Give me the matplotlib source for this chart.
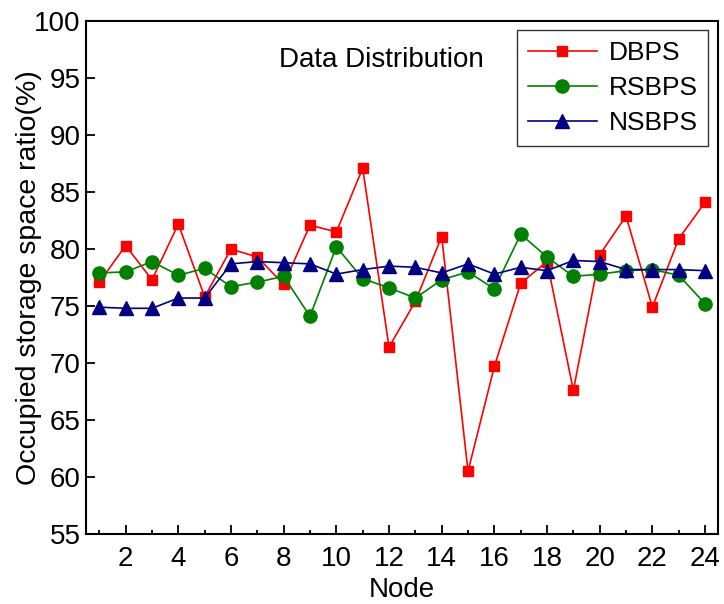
import numpy as np
import matplotlib
matplotlib.use('Agg')
import matplotlib.pyplot as plt
from matplotlib.ticker import MultipleLocator

# Data
nodes = list(range(1, 25))
dbps = [77.1, 80.3, 77.3, 82.2, 75.8, 80.0, 79.3, 76.9, 82.1, 81.5, 87.1, 71.4,
        75.4, 81.1, 60.5, 69.7, 77.0, 78.9, 67.6, 79.5, 82.9, 74.9, 80.9, 84.1]
rsbps = [77.9, 78.0, 78.9, 77.7, 78.3, 76.7, 77.1, 77.6, 74.1, 80.2, 77.4, 76.6,
         75.7, 77.3, 78.0, 76.5, 81.3, 79.3, 77.6, 77.8, 78.1, 78.2, 77.7, 75.2]
nsbps = [74.9, 74.8, 74.8, 75.7, 75.7, 78.7, 78.9, 78.8, 78.7, 77.8, 78.2, 78.5,
         78.4, 77.9, 78.7, 77.8, 78.4, 78.1, 79.0, 78.9, 78.2, 78.2, 78.2, 78.1]
series_names = ['DBPS', 'RSBPS', 'NSBPS']

plt.rcParams['font.family'] = ['Liberation Sans', 'DejaVu Sans']

fig = plt.figure(figsize=(7.24, 6.04), dpi=100)
ax = fig.add_axes([0.119, 0.116, 0.873, 0.849])

ax.plot(nodes, dbps, color='#FF0000', marker='s', markersize=7.5, lw=1.2, label=series_names[0])
ax.plot(nodes, rsbps, color='#008000', marker='o', markersize=9.5, lw=1.2, label=series_names[1])
ax.plot(nodes, nsbps, color='#000080', marker='^', markersize=9.5, lw=1.2, label=series_names[2])

ax.set_xlim(0.5, 24.5)
ax.set_ylim(55, 100)
ax.xaxis.set_major_locator(MultipleLocator(2))
ax.xaxis.set_minor_locator(MultipleLocator(1))
ax.yaxis.set_major_locator(MultipleLocator(5))

ax.tick_params(axis='both', which='major', direction='in', length=6.5, width=1.3, labelsize=20)
ax.tick_params(axis='x', which='major', pad=9)
ax.tick_params(axis='y', which='major', pad=4)
ax.tick_params(axis='x', which='minor', direction='in', length=3, width=1.3)
for sp in ax.spines.values():
    sp.set_linewidth(1.5)

ax.set_xlabel('Node', fontsize=20, labelpad=3)
ax.set_ylabel('Occupied storage space ratio(%)', fontsize=20.5, labelpad=-6)

ax.text(0.467, 0.924, 'Data Distribution', fontsize=20, va='center', ha='center',
        transform=ax.transAxes)

leg = ax.legend(loc='upper right', bbox_to_anchor=(0.984, 0.982), fontsize=19,
                frameon=True, fancybox=False, handlelength=2.6, borderpad=0.4,
                labelspacing=0.42, handletextpad=0.45, borderaxespad=0)
leg.get_frame().set_edgecolor('black')
leg.get_frame().set_linewidth(1.0)

fig.savefig('out.png', dpi=100)
